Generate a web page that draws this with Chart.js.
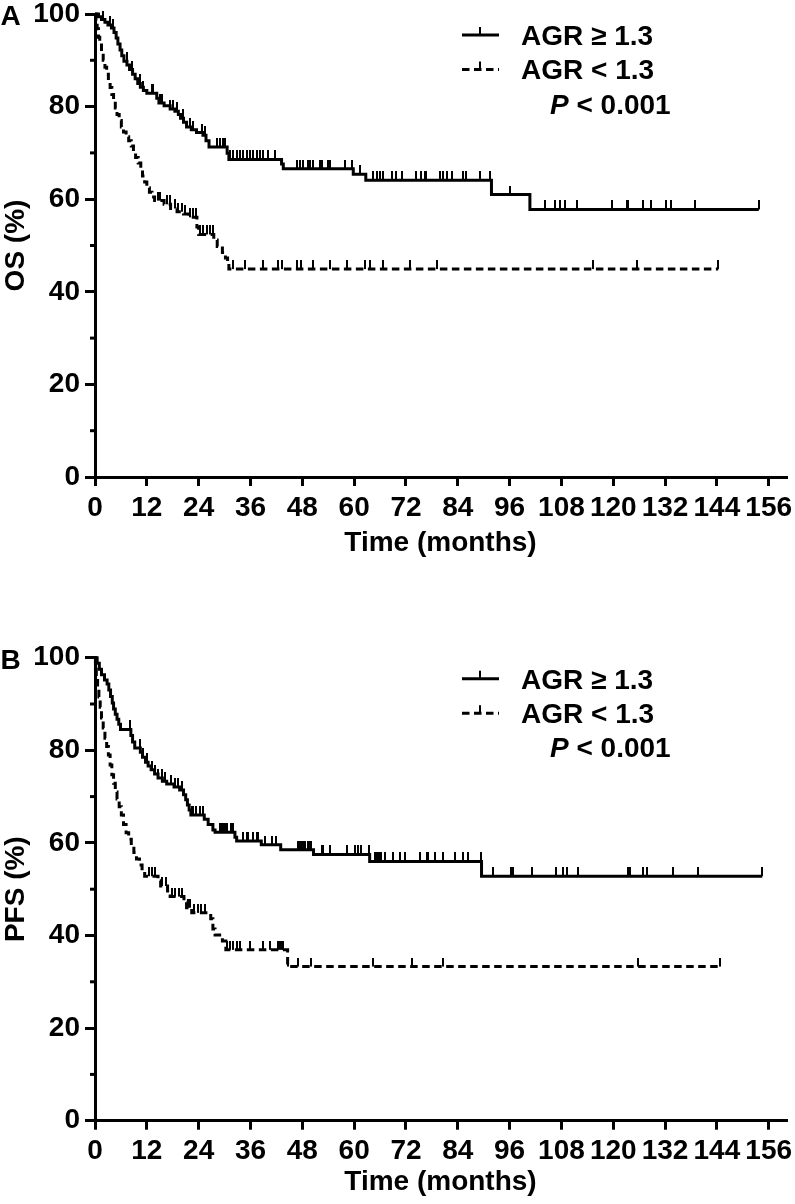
<!DOCTYPE html>
<html><head><meta charset="utf-8">
<script src="https://cdn.jsdelivr.net/npm/chart.js@4/dist/chart.umd.min.js"></script>
<style>
html,body{margin:0;padding:0;background:#fff;}
#wrap{position:relative;width:795px;height:1204px;overflow:hidden;}
canvas{position:absolute;left:0;}
</style></head><body>
<div id="wrap">
<canvas id="c1" width="795" height="602" style="top:0"></canvas>
<canvas id="c2" width="795" height="602" style="top:602px"></canvas>
</div>
<script>
// ---------- tick labels ----------
const xTickValues = [0,12,24,36,48,60,72,84,96,108,120,132,144,156];
const yTickValues = [0,20,40,60,80,100];
const yMinorTicks = [10,30,50,70,90];
const seriesLabels = ['AGR \u2265 1.3', 'AGR < 1.3'];
const pValueText = ' < 0.001';

// ---------- Panel A: OS ----------
const osHighT = [0,0.8,1.5,2.3,3.0,3.8,4.4,4.9,5.3,5.8,6.2,6.7,7.4,8.0,8.7,9.3,9.9,10.5,11.2,12.0,14.3,14.8,16.0,17.4,18.5,19.3,19.8,20.5,21.2,22.3,23.5,25.0,25.7,26.4,30.6,31.0,43.2,43.6,59.8,62.7,91.8,100.7,153.7];
const osHighS = [100,99.4,98.8,98.2,97.6,97.0,96.0,94.8,93.5,92.2,91.0,89.8,89.0,88.0,87.0,86.0,85.0,84.2,83.5,82.9,81.8,80.8,80.2,79.5,79.0,78.3,77.5,76.6,75.6,75.0,74.4,73.8,72.6,71.3,69.9,68.6,67.6,66.6,65.4,64.1,61.0,57.8,57.8];
const osHighCensor = [1.9,3.5,4.2,7.3,8.5,10.4,11.2,13.1,13.5,15.0,15.4,17.4,18.1,18.9,20.4,22.0,22.7,24.7,25.5,28.2,28.9,29.7,30.1,31.2,32.0,32.8,33.5,34.3,35.1,35.9,36.6,37.4,38.2,38.9,40.0,41.7,46.7,47.4,48.2,49.4,49.8,50.5,52.1,52.5,54.0,54.4,57.9,59.4,61.3,64.4,65.2,66.0,66.7,68.7,69.8,71.0,74.4,75.6,76.4,76.7,79.8,80.6,81.4,82.6,85.2,86.0,89.1,91.5,96.0,104.3,106.5,107.6,108.8,111.5,119.6,123.1,123.4,126.9,128.8,132.3,133.4,138.9,153.7];

const osLowT = [0,0.2,0.5,0.8,1.1,1.5,1.9,2.3,2.7,3.1,3.5,3.9,4.3,4.7,5.1,5.6,6.1,6.6,7.2,7.8,8.4,8.9,9.4,10.0,10.6,11.0,11.5,12.0,12.6,13.2,13.8,16.0,17.5,19.0,20.5,21.7,23.6,24.0,27.5,28.3,29.5,30.2,30.7,31.0,144.3];
const osLowS = [100,98.5,96.8,95.0,93.3,91.6,90.0,88.5,87.0,85.5,84.1,82.6,81.1,79.7,78.3,77.0,75.6,74.5,73.5,72.6,71.5,70.2,69.0,67.8,66.5,65.0,63.7,62.5,61.5,60.5,59.7,58.9,58.0,57.3,56.8,56.1,54.0,52.4,51.2,49.8,48.5,47.3,46.0,44.9,44.9];
const osLowCensor = [14.5,15.0,16.6,17.4,18.5,19.3,20.1,20.8,22.0,22.7,23.5,24.3,25.1,25.9,26.6,27.4,32.0,34.7,39.0,42.4,43.2,46.7,47.8,50.5,54.4,58.3,62.5,63.6,66.7,72.9,79.1,115.3,125.4,144.3];

// ---------- Panel B: PFS ----------
const pfsHighT = [0,0.5,1.0,1.5,2.2,2.8,3.2,3.6,4.0,4.3,4.7,5.1,5.5,5.9,8.3,8.7,9.2,10.5,11.0,11.7,12.3,13.0,13.8,14.6,15.6,16.6,18.3,19.6,20.5,21.0,21.4,21.8,22.2,25.3,26.2,27.3,27.8,32.4,32.8,38.5,43.0,50.6,63.6,89.5,154.5];
const pfsHighS = [100,98.8,97.5,96.3,95.2,94.3,93.0,91.6,90.2,88.9,87.8,86.7,85.6,84.5,83.2,81.8,80.5,79.6,78.5,77.4,76.6,75.8,74.9,74.0,73.3,72.7,72.1,71.4,70.4,69.3,68.2,67.1,66.0,65.1,64.0,62.8,62.3,61.2,60.4,59.6,58.5,57.5,56.0,52.8,52.8];
const pfsHighCensor = [8.1,10.4,11.2,12.0,13.1,13.9,14.7,15.4,16.2,17.7,18.5,19.3,20.1,22.4,22.7,23.5,24.3,25.1,28.9,29.3,29.7,30.1,30.5,31.6,32.0,34.3,35.1,35.5,36.6,37.4,37.8,39.3,40.9,42.0,47.0,47.4,47.8,48.2,48.6,49.4,49.8,50.1,52.5,52.8,54.4,58.3,60.2,60.9,61.7,63.4,64.8,65.2,65.6,66.0,66.3,67.1,69.0,70.6,71.7,75.2,76.8,77.1,78.7,80.6,83.3,85.2,86.4,89.3,92.2,96.4,96.8,101.3,106.8,108.4,109.2,111.9,123.4,123.8,126.9,127.7,133.8,139.6,154.5];

const pfsLowT = [0,0.1,0.3,0.6,0.9,1.2,1.5,1.9,2.3,2.7,3.1,3.5,3.9,4.3,4.7,5.1,5.6,6.1,6.6,7.2,7.8,8.4,9.0,9.6,10.3,10.9,11.5,14.6,15.2,16.8,17.4,20.6,21.2,22.4,26.8,27.3,27.8,29.5,30.3,44.6,144.7];
const pfsLowS = [100,97.5,95.5,93.3,91.5,89.3,87.0,84.8,82.6,80.8,79.0,76.8,74.7,72.9,71.0,69.5,67.8,66.0,64.0,62.2,60.8,59.3,57.9,56.5,55.2,54.0,52.8,51.8,50.7,49.6,48.4,47.2,46.0,44.9,43.6,41.4,40.1,38.8,36.9,33.3,33.3];
const pfsLowCensor = [12.5,13.2,14.0,15.6,16.4,17.8,18.5,19.5,20.1,21.6,22.0,23.0,23.8,24.6,25.4,30.5,31.2,32.0,32.8,33.5,35.9,38.9,40.5,42.4,42.8,43.2,43.6,44.7,47.0,50.1,64.4,73.3,80.6,125.7,144.7];

// ---------- helpers ----------
const FONT = "'Liberation Sans', Arial, Helvetica, sans-serif";
Chart.defaults.font.family = FONT;
Chart.defaults.color = '#000';

function stepPoints(T, S) { return T.map((t, i) => ({x: t, y: S[i]})); }
function censorPoints(C, T, S) {
  return C.map(c => { let v = S[0]; for (let i = 0; i < T.length; i++) { if (T[i] <= c) v = S[i]; } return {x: c, y: v}; });
}
const tickImg = (() => {
  const c = document.createElement('canvas'); c.width = 2; c.height = 18;
  const g = c.getContext('2d'); g.fillStyle = '#000'; g.fillRect(0, 0, 2, 9); return c;
})();
const DASH = [7.5, 4.5];

const kmPlugin = {
  id: 'kmExtras',
  afterDraw(chart, args, o) {
    const ctx = chart.ctx, area = chart.chartArea, top = area.top;
    ctx.save();
    // minor y ticks
    const ys = chart.scales.y;
    ctx.strokeStyle = '#000'; ctx.lineWidth = 3;
    yMinorTicks.forEach(v => {
      const p = ys.getPixelForValue(v);
      ctx.beginPath(); ctx.moveTo(area.left - 5, p); ctx.lineTo(area.left, p); ctx.stroke();
    });
    // legend
    const ds = chart.data.datasets;
    const rows = [{d: ds[0], y: top + 21, base: top + 31}, {d: ds[1], y: top + 55.5, base: top + 65}];
    rows.forEach(r => {
      ctx.strokeStyle = '#000'; ctx.lineWidth = 3; ctx.setLineDash(r.d.borderDash || []);
      ctx.beginPath(); ctx.moveTo(462, r.y); ctx.lineTo(499, r.y); ctx.stroke();
      ctx.setLineDash([]);
      ctx.fillStyle = '#000'; ctx.fillRect(479, r.y - 8, 2, 8);
      ctx.font = 'bold 28px ' + FONT; ctx.textBaseline = 'alphabetic'; ctx.textAlign = 'left';
      ctx.fillText(r.d.label, 521, r.base);
    });
    ctx.font = 'italic bold 28px ' + FONT;
    ctx.fillText('P', 550, top + 99.5);
    const w = ctx.measureText('P').width;
    ctx.font = 'bold 28px ' + FONT;
    ctx.fillText(pValueText, 550 + w, top + 99.5);
    // panel letter
    ctx.fillText(o.letter, 0.5, top + 11);
    ctx.restore();
  }
};

function makeChart(id, cfg) {
  const H = 602, plotH = 463;
  const xH = H - cfg.topPad - plotH;
  return new Chart(document.getElementById(id), {
    type: 'line',
    data: {
      datasets: [
        {label: seriesLabels[0], data: stepPoints(cfg.hiT, cfg.hiS), stepped: true, borderColor: '#000', borderWidth: 3, pointRadius: 0, fill: false, clip: false},
        {label: seriesLabels[1], data: stepPoints(cfg.loT, cfg.loS), stepped: true, borderColor: '#000', borderWidth: 3, borderDash: DASH, pointRadius: 0, fill: false, clip: false},
        {label: seriesLabels[0] + ' censored', data: censorPoints(cfg.hiC, cfg.hiT, cfg.hiS), showLine: false, pointStyle: tickImg, pointRadius: 4, clip: false},
        {label: seriesLabels[1] + ' censored', data: censorPoints(cfg.loC, cfg.loT, cfg.loS), showLine: false, pointStyle: tickImg, pointRadius: 4, clip: false}
      ]
    },
    options: {
      responsive: false, animation: false, devicePixelRatio: 1,
      layout: {padding: {top: cfg.topPad, right: 9, left: 0, bottom: 0}},
      plugins: {legend: {display: false}, tooltip: {enabled: false}, kmExtras: {letter: cfg.letter}},
      scales: {
        x: {
          type: 'linear', min: 0, max: 160,
          afterBuildTicks: s => { s.ticks = xTickValues.map(v => ({value: v})); },
          afterFit: s => { s.height = xH; s.paddingLeft = 0; s.paddingRight = 0; },
          ticks: {autoSkip: false, maxRotation: 0, minRotation: 0, padding: 5, color: '#000', font: {size: 28, weight: 'bold'}},
          grid: {drawOnChartArea: false, drawTicks: true, tickLength: 9, tickWidth: 3, lineWidth: 3, tickColor: '#000', color: '#000'},
          border: {display: true, width: 3, color: '#000'},
          title: {display: true, text: 'Time (months)', color: '#000', font: {size: 28, weight: 'bold', lineHeight: 1}, padding: {top: 0, bottom: cfg.xTitlePad}}
        },
        y: {
          type: 'linear', min: 0, max: 100,
          afterBuildTicks: s => { s.ticks = yTickValues.map(v => ({value: v})); },
          afterFit: s => { s.width = 95; s.paddingTop = 0; s.paddingBottom = 0; },
          ticks: {padding: 5, color: '#000', font: {size: 28, weight: 'bold'}},
          grid: {drawOnChartArea: false, drawTicks: true, tickLength: 10, tickWidth: 3, lineWidth: 3, tickColor: '#000', color: '#000'},
          border: {display: true, width: 3, color: '#000'},
          title: {display: true, text: cfg.yTitle, color: '#000', font: {size: 28, weight: 'bold', lineHeight: 1}, padding: {top: 2, bottom: 0}}
        }
      }
    },
    plugins: [kmPlugin]
  });
}

makeChart('c1', {letter: 'A', yTitle: 'OS (%)', topPad: 14, xTitlePad: 45,
  hiT: osHighT, hiS: osHighS, hiC: osHighCensor, loT: osLowT, loS: osLowS, loC: osLowCensor});
makeChart('c2', {letter: 'B', yTitle: 'PFS (%)', topPad: 55.7, xTitlePad: 8,
  hiT: pfsHighT, hiS: pfsHighS, hiC: pfsHighCensor, loT: pfsLowT, loS: pfsLowS, loC: pfsLowCensor});
</script>
</body></html>
